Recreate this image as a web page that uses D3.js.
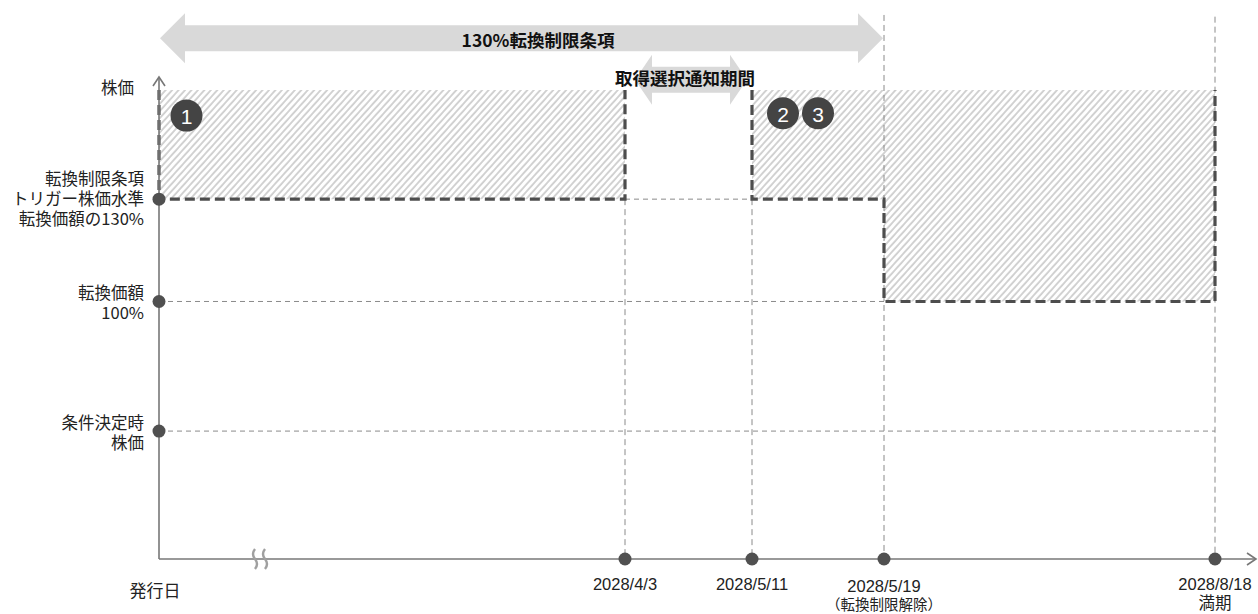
<!DOCTYPE html>
<html>
<head>
<meta charset="utf-8">
<script src="https://cdn.jsdelivr.net/npm/d3@7"></script>
<style>
  body { margin: 0; background: #fff; }
  svg { display: block; }
</style>
</head>
<body>
<svg id="chart" width="1258" height="614"></svg>
<script>
// schematic time positions (not to scale)
const dateLabels = ["発行日", "2028/4/3", "2028/5/11", "2028/5/19", "2028/8/18"];
const dateSubLabels = ["", "", "", "（転換制限解除）", "満期"];
const datePos = [0, 46.6, 59.3, 72.5, 105.6];
const dateDots = [false, true, true, true, true];

// price levels (% of conversion price, schematic)
const levelLabels = [["条件決定時", "株価"], ["転換価額", "100%"], ["転換制限条項", "トリガー株価水準", "転換価額の130%"]];
const levelValues = [62, 100, 130];
const topValue = 162;
const axisLabel = "株価";

// hatched zones where conversion is possible: [from, to, level]
const zones = [
  [[0, 46.6, 130]],
  [[59.3, 72.5, 130], [72.5, 105.6, 100]]
];

// thin guide lines
const hGuides = [[46.6, 59.3, 130], [0, 72.5, 100], [0, 105.6, 62]];
const vGuides = [[46.6, 130], [59.3, 130], [72.5, 184], [105.6, 183.5]];

// period arrows: label, from, to, level, head length
const periods = [
  ["130%転換制限条項", 0.1, 72.4, 177.2, 25],
  ["取得選択通知期間", 47.6, 58.8, 165, 17]
];

// numbered badges: text, x, level
const badges = [["1", 2.75, 154.5], ["2", 62.4, 155.2], ["3", 65.9, 155.2]];

const svg = d3.select("#chart");
const W = 1258, H = 614;
const x = d3.scaleLinear().domain([0, 110]).range([159, 1259]);
const y = d3.scaleLinear().domain([24.5, topValue]).range([559, 90]);
const jp = '"Noto Sans CJK JP", "Noto Sans", sans-serif';
const num = '"Liberation Sans", Arial, sans-serif';

// hatch pattern
const defs = svg.append("defs");
defs.append("pattern")
  .attr("id", "hatch")
  .attr("patternUnits", "userSpaceOnUse")
  .attr("width", 4.8).attr("height", 10)
  .attr("patternTransform", "rotate(42)")
  .append("line")
  .attr("x1", 1).attr("y1", -2).attr("x2", 1).attr("y2", 12)
  .attr("stroke", "#c8c8c8").attr("stroke-width", 1.6);

const line = d3.line().x(d => x(d[0])).y(d => y(d[1]));
const zonePoints = z => {
  const pts = [[z[0][0], topValue]];
  z.forEach(s => { pts.push([s[0], s[2]]); pts.push([s[1], s[2]]); });
  pts.push([z[z.length - 1][1], topValue]);
  return pts;
};

// hatch areas
svg.append("g").selectAll("path")
  .data(zones)
  .join("path")
  .attr("d", z => line(zonePoints(z)) + "Z")
  .attr("fill", "url(#hatch)");

// period arrows
const arrowPath = p => {
  const x0 = x(p[1]), x1 = x(p[2]), cy = y(p[3]), hl = p[4];
  const s = 13, h = 25;
  return `M${x0},${cy} L${x0 + hl},${cy - h} L${x0 + hl},${cy - s} L${x1 - hl},${cy - s} L${x1 - hl},${cy - h}` +
    ` L${x1},${cy} L${x1 - hl},${cy + h} L${x1 - hl},${cy + s} L${x0 + hl},${cy + s} L${x0 + hl},${cy + h} Z`;
};
svg.append("g").selectAll("path")
  .data(periods)
  .join("path")
  .attr("d", arrowPath)
  .attr("fill", "#d9d9d9");

// thin dashed guides
svg.append("g")
  .attr("stroke", "#8a8a8a").attr("stroke-width", 1).attr("stroke-dasharray", "5,4")
  .selectAll("line")
  .data(hGuides)
  .join("line")
  .attr("x1", d => x(d[0])).attr("x2", d => x(d[1]))
  .attr("y1", d => y(d[2])).attr("y2", d => y(d[2]));
svg.append("g")
  .attr("stroke", "#8a8a8a").attr("stroke-width", 1).attr("stroke-dasharray", "6,4")
  .selectAll("line")
  .data(vGuides)
  .join("line")
  .attr("x1", d => x(d[0])).attr("x2", d => x(d[0]))
  .attr("y1", d => y(d[1])).attr("y2", y(24.5));

// period labels
svg.append("g").selectAll("text")
  .data(periods)
  .join("text")
  .attr("x", (d, i) => i === 0 ? x(d[1]) + 378 : x(d[1]) + 50)
  .attr("y", (d, i) => i === 0 ? y(d[3]) + 1 : y(d[3]) - 2)
  .attr("text-anchor", "middle")
  .attr("dominant-baseline", "central")
  .attr("font-family", jp).attr("font-size", 17.5).attr("font-weight", "bold")
  .attr("fill", "#111")
  .text(d => d[0]);

// thick dashed threshold line
svg.append("g").selectAll("path")
  .data(zones)
  .join("path")
  .attr("d", z => line(zonePoints(z)))
  .attr("fill", "none")
  .attr("stroke", "#4d4d4d").attr("stroke-width", 3.2)
  .attr("stroke-dasharray", "10,5");

// axes
const axisG = svg.append("g").attr("stroke", "#777").attr("stroke-width", 1.6).attr("fill", "none");
axisG.append("path").attr("d", `M${x(0)},${y(24.5)} V${y(topValue) - 13}`);
axisG.append("path").attr("d", `M${x(0) - 6},${y(topValue) - 4} L${x(0)},${y(topValue) - 13} L${x(0) + 6},${y(topValue) - 4}`);
axisG.append("path").attr("d", `M${x(0)},${y(24.5)} H${W - 2}`);
axisG.append("path").attr("d", `M${W - 11},${y(24.5) - 6} L${W - 2},${y(24.5)} L${W - 11},${y(24.5) + 6}`);

// axis break mark
const brk = svg.append("g").attr("stroke", "#a0a0a0").attr("stroke-width", 2.4).attr("fill", "none");
[9.5, 10.5].forEach(v => {
  const bx = x(v), by = y(24.5);
  brk.append("path").attr("d", `M${bx + 1},${by - 10} q-4,5 0,10 q4,5 0,10`);
});

// dots on axes
svg.append("g").selectAll("circle")
  .data(levelValues)
  .join("circle")
  .attr("cx", x(0)).attr("cy", d => y(d)).attr("r", 6.5)
  .attr("fill", "#505050");
svg.append("g").selectAll("circle")
  .data(datePos.filter((d, i) => dateDots[i]))
  .join("circle")
  .attr("cx", d => x(d)).attr("cy", y(24.5)).attr("r", 6.5)
  .attr("fill", "#505050");

// level labels
const lvl = svg.append("g")
  .attr("font-family", jp).attr("font-size", 16.5).attr("fill", "#222")
  .attr("text-anchor", "end");
levelLabels.forEach((lines, i) => {
  const y0 = y(levelValues[i]) - (lines.length === 3 ? 21 : 9);
  lines.forEach((s, j) => {
    lvl.append("text").attr("x", x(0) - 15).attr("y", y0 + j * 20)
      .attr("dominant-baseline", "central").text(s);
  });
});
lvl.append("text").attr("x", x(0) - 25).attr("y", y(topValue) - 3)
  .attr("dominant-baseline", "central").text(axisLabel);

// date labels
const dl = svg.append("g").attr("text-anchor", "middle").attr("fill", "#222");
dateLabels.forEach((s, i) => {
  const cx = i === 0 ? x(datePos[i]) - 4 : x(datePos[i]);
  dl.append("text").attr("x", cx).attr("y", i === 0 ? 589 : (i === 3 ? 586 : 584))
    .attr("dominant-baseline", "central")
    .attr("font-family", i === 0 ? jp : num).attr("font-size", i === 0 ? 17 : 16.5)
    .text(s);
  if (dateSubLabels[i]) {
    dl.append("text").attr("x", cx).attr("y", i === 3 ? 603 : 602)
      .attr("dominant-baseline", "central")
      .attr("font-family", jp).attr("font-size", i === 3 ? 14.5 : 16.5)
      .text(dateSubLabels[i]);
  }
});

// badges
const bg = svg.append("g").selectAll("g")
  .data(badges)
  .join("g")
  .attr("transform", d => `translate(${x(d[1])},${y(d[2])})`);
bg.append("circle").attr("r", 16).attr("fill", "#444");
bg.append("text")
  .attr("text-anchor", "middle").attr("dominant-baseline", "central")
  .attr("y", 1)
  .attr("font-family", num).attr("font-size", 21).attr("fill", "#fff")
  .text(d => d[0]);
</script>
</body>
</html>
